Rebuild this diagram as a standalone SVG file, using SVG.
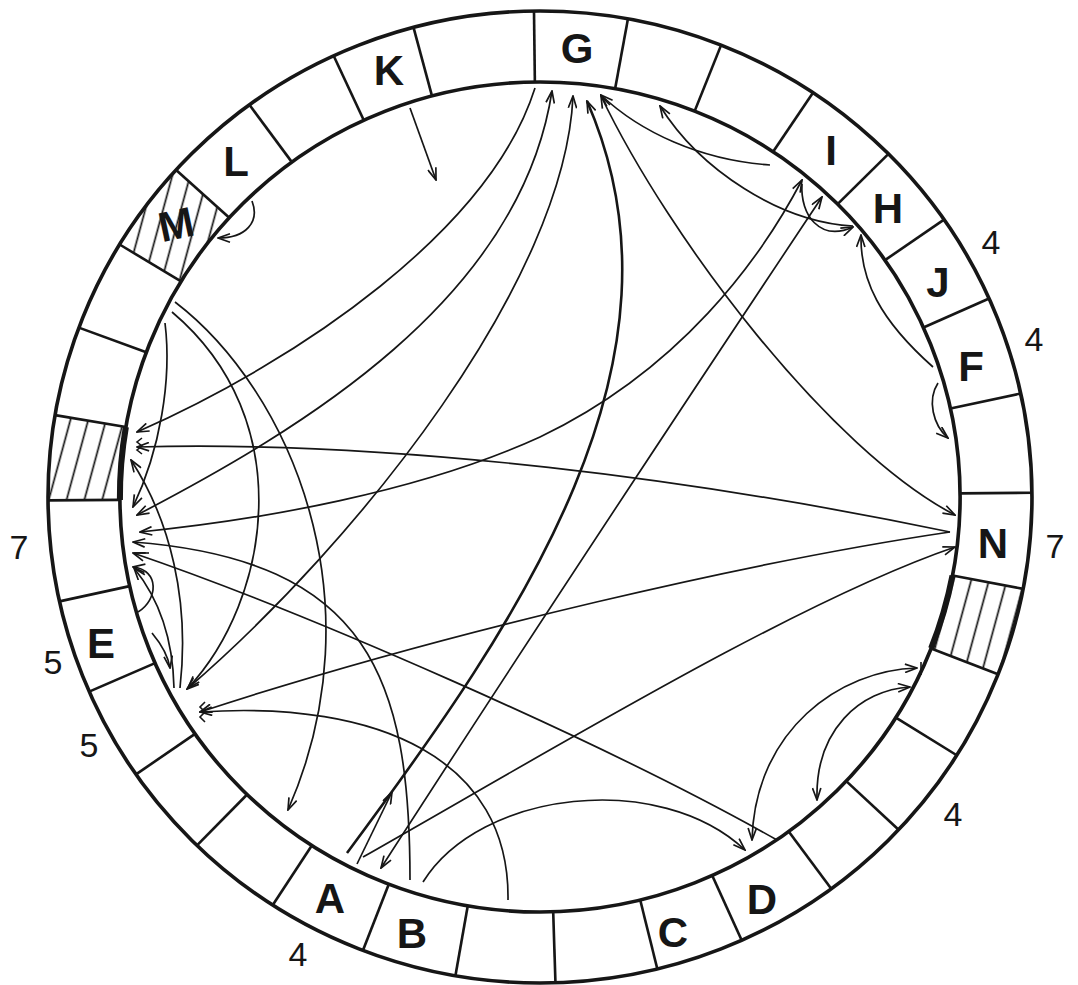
<svg xmlns="http://www.w3.org/2000/svg" width="1078" height="985" viewBox="0 0 1078 985">
<style>
.rim{fill:none;stroke:#161616;stroke-width:3.6}
.dv{stroke:#161616;stroke-width:2.6}
.thick{fill:none;stroke:#161616;stroke-width:6}
.hat{fill:url(#hatch);stroke:none}
.lbl{font-family:"Liberation Sans",Arial,sans-serif;font-weight:bold;font-size:42px;fill:#161616;text-anchor:middle}
.num{font-family:"Liberation Sans",Arial,sans-serif;font-size:34px;fill:#161616;text-anchor:middle}
.c{fill:none;stroke:#161616;stroke-width:1.7;marker-end:url(#ah)}
.b{marker-start:url(#ah)}
.t{stroke-width:2.6}
.mk{fill:none;stroke:#161616;stroke-width:1.6}
</style>
<defs>
<marker id="ah" viewBox="0 0 14 10" refX="13" refY="5" markerWidth="14" markerHeight="10" markerUnits="userSpaceOnUse" orient="auto-start-reverse">
<path d="M1,0.8 L13,5 L1,9.2" fill="none" stroke="#161616" stroke-width="1.7"/>
</marker>
<pattern id="hatch" patternUnits="userSpaceOnUse" width="17" height="17" patternTransform="rotate(15)">
<line x1="8" y1="-1" x2="8" y2="18" stroke="#161616" stroke-width="1.7"/>
</pattern>
</defs>
<rect width="1078" height="985" fill="#ffffff"/>
<g id="ring" transform="translate(540,497) scale(1.0123,1)">
<path class="hat" d="M407.5,78.5 L477.2,91.9 A486,486 0 0 1 452.5,177.3 L386.4,151.4 A415,415 0 0 0 407.5,78.5Z"/>
<path class="hat" d="M-415,2.9 L-486,3.4 A486,486 0 0 1 -479,-81.9 L-409.1,-69.9 A415,415 0 0 0 -415,2.9Z"/>
<path class="hat" d="M-354.5,-215.7 L-415.2,-252.6 A486,486 0 0 1 -359.5,-327.1 L-306.9,-279.3 A415,415 0 0 0 -354.5,-215.7Z"/>
<circle class="rim" r="486"/>
<circle class="rim" r="415"/>
<path class="thick" d="M407.5,78.5 A415,415 0 0 1 386.4,151.4"/>
<path class="thick" d="M-415,2.9 A415,415 0 0 1 -409.1,-69.9"/>
<g class="dv">
<line x1="415" x2="486" transform="rotate(-79.7)"/>
<line x1="415" x2="486" transform="rotate(-68.4)"/>
<line x1="415" x2="486" transform="rotate(-56.3)"/>
<line x1="415" x2="486" transform="rotate(-44.9)"/>
<line x1="415" x2="486" transform="rotate(-34.8)"/>
<line x1="415" x2="486" transform="rotate(-24.1)"/>
<line x1="415" x2="486" transform="rotate(-12.3)"/>
<line x1="415" x2="486" transform="rotate(-0.5)"/>
<line x1="415" x2="486" transform="rotate(10.9)"/>
<line x1="415" x2="486" transform="rotate(21.4)"/>
<line x1="415" x2="486" transform="rotate(32.1)"/>
<line x1="415" x2="486" transform="rotate(43.2)"/>
<line x1="415" x2="486" transform="rotate(53.7)"/>
<line x1="415" x2="486" transform="rotate(65.8)"/>
<line x1="415" x2="486" transform="rotate(76.2)"/>
<line x1="415" x2="486" transform="rotate(88.2)"/>
<line x1="415" x2="486" transform="rotate(99.9)"/>
<line x1="415" x2="486" transform="rotate(111.1)"/>
<line x1="415" x2="486" transform="rotate(122.9)"/>
<line x1="415" x2="486" transform="rotate(134.2)"/>
<line x1="415" x2="486" transform="rotate(145.2)"/>
<line x1="415" x2="486" transform="rotate(156.4)"/>
<line x1="415" x2="486" transform="rotate(167.6)"/>
<line x1="415" x2="486" transform="rotate(179.6)"/>
<line x1="415" x2="486" transform="rotate(189.7)"/>
<line x1="415" x2="486" transform="rotate(200.4)"/>
<line x1="415" x2="486" transform="rotate(211.3)"/>
<line x1="415" x2="486" transform="rotate(222.3)"/>
<line x1="415" x2="486" transform="rotate(233.8)"/>
<line x1="415" x2="486" transform="rotate(245.2)"/>
<line x1="415" x2="486" transform="rotate(255.1)"/>
<line x1="415" x2="486" transform="rotate(269.3)"/>
</g>
</g>
<g id="node-G"><text class="lbl" x="577" y="63">G</text></g>
<g id="node-I"><text class="lbl" x="831" y="165">I</text></g>
<g id="node-H"><text class="lbl" x="888" y="223">H</text></g>
<g id="node-J"><text class="lbl" x="938" y="297">J</text></g>
<g id="node-F"><text class="lbl" x="971" y="381">F</text></g>
<g id="node-N"><text class="lbl" x="993" y="558">N</text></g>
<g id="node-D"><text class="lbl" x="762" y="914">D</text></g>
<g id="node-C"><text class="lbl" x="673" y="947">C</text></g>
<g id="node-B"><text class="lbl" x="412" y="948">B</text></g>
<g id="node-A"><text class="lbl" x="330" y="913">A</text></g>
<g id="node-E"><text class="lbl" x="101" y="658">E</text></g>
<g id="node-M"><text class="lbl" x="176" y="239" transform="rotate(-12 176 224)">M</text></g>
<g id="node-L"><text class="lbl" x="236" y="176">L</text></g>
<g id="node-K"><text class="lbl" x="389" y="85">K</text></g>
<g id="numbers">
<text class="num" x="991" y="254">4</text>
<text class="num" x="1034" y="351">4</text>
<text class="num" x="1055" y="558">7</text>
<text class="num" x="953" y="826">4</text>
<text class="num" x="298" y="966">4</text>
<text class="num" x="53" y="674">5</text>
<text class="num" x="89" y="757">5</text>
<text class="num" x="19" y="559">7</text>
</g>
<g id="connectors">
<path class="c" d="M410,108 L436,180"/>
<path class="c" d="M252,201 C260,222 246,238 218,238"/>
<path class="c" d="M535,88 C490,230 300,360 137,432"/>
<path class="c b" d="M137,515 C300,430 520,300 552,91"/>
<path class="c b" d="M573,96 C565,280 360,540 187,689"/>
<path class="c t" d="M347,853 C520,620 700,360 587,101"/>
<path class="c" d="M357,864 L392,792"/>
<path class="c b" d="M601,96 C670,240 830,450 955,515"/>
<path class="c" d="M770,165 C700,160 640,132 601,95"/>
<path class="c" d="M853,226 C780,222 700,170 660,106"/>
<path class="c" d="M802,184 C800,215 820,242 853,227"/>
<path class="c" d="M933,367 C880,320 860,280 861,235"/>
<path class="c" d="M938,383 C927,400 933,425 948,438"/>
<path class="c b" d="M802,180 C760,260 680,370 540,437 C420,492 260,520 140,532"/>
<path class="c b" d="M822,197 C740,320 560,590 381,868"/>
<path class="c" d="M363,857 C560,745 800,600 955,547"/>
<path class="c" d="M950,532 C700,480 400,440 137,447"/>
<path class="c" d="M950,532 C760,560 450,630 200,712"/>
<path class="c" d="M508,900 C510,760 380,700 200,712"/>
<path class="c" d="M423,882 C480,790 660,770 745,850"/>
<path class="c b" d="M917,668 C840,670 755,730 752,840"/>
<path class="c b" d="M910,687 C860,690 815,730 817,800"/>
<path class="c" d="M777,840 C600,740 300,610 133,553"/>
<path class="c" d="M410,880 C410,680 370,560 133,542"/>
<path class="c" d="M165,323 C172,380 160,450 133,507"/>
<path class="c" d="M175,302 C290,390 380,600 288,810"/>
<path class="c" d="M172,312 C300,420 270,600 188,688"/>
<path class="c" d="M180,688 C190,600 170,520 131,460"/>
<path class="c" d="M138,612 C158,600 160,570 133,567"/>
<path class="c" d="M174,688 C173,640 160,600 134,568"/>
<path class="c" d="M152,633 C162,645 168,655 170,668"/>
<path class="mk" d="M142,438 L137,442 L142,446 L137,450 L142,454"/>
<path class="mk" d="M205,702 L200,707 L205,712 L200,717 L205,722"/>
<path class="mk" d="M921,662 L921,675"/>
<path class="mk" d="M134,553 L149,553" stroke-width="3"/>
</g>
</svg>
